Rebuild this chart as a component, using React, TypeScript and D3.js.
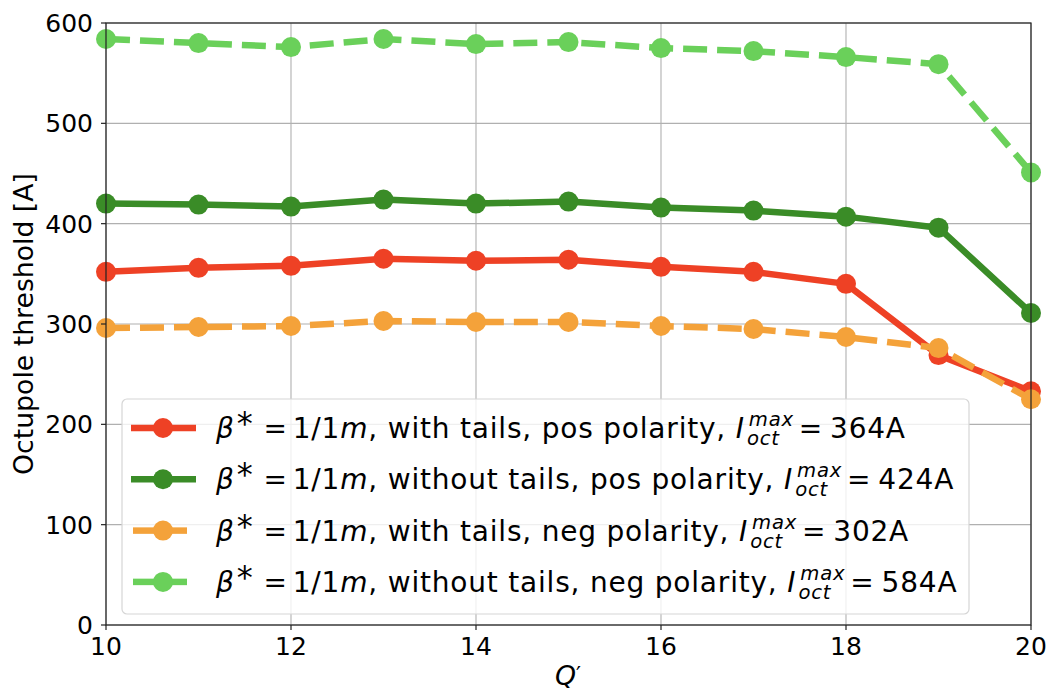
import React from "react";
import * as d3 from "d3";

const qPrime = [10, 11, 12, 13, 14, 15, 16, 17, 18, 19, 20];
const withTailsPos = [352, 356, 358, 365, 363, 364, 357, 352, 340, 269, 233];
const withoutTailsPos = [420, 419, 417, 424, 420, 422, 416, 413, 407, 396, 311];
const withTailsNeg = [296, 297, 298, 303, 302, 302, 298, 295, 287, 276, 225];
const withoutTailsNeg = [584, 580, 576, 584, 579, 581, 575, 572, 566, 559, 451];
const xTicks = [10, 12, 14, 16, 18, 20];
const yTicks = [0, 100, 200, 300, 400, 500, 600];

const seriesNames = ["with tails, pos polarity, ", "without tails, pos polarity, ", "with tails, neg polarity, ", "without tails, neg polarity, "];
const seriesMax = ["364A", "424A", "302A", "584A"];
const seriesColors = ["#EE4125", "#3A8C27", "#F4A23A", "#6AD05A"];
const seriesDashed = [false, false, true, true];
const seriesValues = [withTailsPos, withoutTailsPos, withTailsNeg, withoutTailsNeg];

const W = 1048;
const H = 690;
const FONT = "'DejaVu Sans', sans-serif";

export default function App() {
  const x = d3.scaleLinear().domain([10, 20]).range([106, 1031]);
  const y = d3.scaleLinear().domain([0, 600]).range([625, 23]);
  const line = d3
    .line<number>()
    .x((_, i) => x(qPrime[i]))
    .y((d) => y(d));

  const lw = 6.5;
  const r = 10;
  const dash = "24 10";

  const legX = 122;
  const legY = 399;
  const legW = 847;
  const legH = 215;
  const rowY = (i: number) => 428 + i * 51.3;
  const LF = 28;
  const SF = 19.6;

  return (
    <svg
      width={W}
      height={H}
      style={{ position: "absolute", left: 0, top: 0, background: "#fff" }}
      fontFamily={FONT}
    >
      <rect x={0} y={0} width={W} height={H} fill="#fff" />
      {xTicks.map((t) => (
        <line key={"gx" + t} x1={x(t)} x2={x(t)} y1={y(0)} y2={y(600)} stroke="#b0b0b0" strokeWidth={1.1} />
      ))}
      {yTicks.map((t) => (
        <line key={"gy" + t} x1={x(10)} x2={x(20)} y1={y(t)} y2={y(t)} stroke="#b0b0b0" strokeWidth={1.1} />
      ))}
      {seriesValues.map((vals, si) => (
        <g key={"s" + si}>
          <path
            d={line(vals) || ""}
            fill="none"
            stroke={seriesColors[si]}
            strokeWidth={lw}
            strokeDasharray={seriesDashed[si] ? dash : undefined}
            strokeLinejoin="round"
          />
          {vals.map((v, i) => (
            <circle key={i} cx={x(qPrime[i])} cy={y(v)} r={r} fill={seriesColors[si]} />
          ))}
        </g>
      ))}
      <rect x={x(10)} y={y(600)} width={x(20) - x(10)} height={y(0) - y(600)} fill="none" stroke="#222" strokeWidth={1.2} />
      {xTicks.map((t) => (
        <g key={"xt" + t}>
          <line x1={x(t)} x2={x(t)} y1={y(0)} y2={y(0) + 5} stroke="#222" strokeWidth={1.2} />
          <text x={x(t)} y={655} textAnchor="middle" fontSize={25} fill="#000">
            {t}
          </text>
        </g>
      ))}
      {yTicks.map((t) => (
        <g key={"yt" + t}>
          <line x1={x(10) - 5} x2={x(10)} y1={y(t)} y2={y(t)} stroke="#222" strokeWidth={1.2} />
          <text x={93} y={y(t) + 9} textAnchor="end" fontSize={25} fill="#000">
            {t}
          </text>
        </g>
      ))}
      <text x={568} y={685} textAnchor="middle" fontSize={26.7} fill="#000">
        <tspan fontStyle="italic">Q</tspan>
        <tspan fontSize={22} dy={-3}>′</tspan>
      </text>
      <text
        transform={`translate(33, ${(y(0) + y(600)) / 2}) rotate(-90)`}
        textAnchor="middle"
        fontSize={26.7}
        fill="#000"
      >
        Octupole threshold [A]
      </text>
      <rect x={legX} y={legY} width={legW} height={legH} rx={5} fill="#fff" fillOpacity={0.8} stroke="#d6d6d6" strokeWidth={1.2} />
      {seriesNames.map((name, i) => {
        const cy = rowY(i);
        return (
          <g key={"leg" + i}>
            {seriesDashed[i] ? (
              <g>
                <line x1={133} x2={157} y1={cy} y2={cy} stroke={seriesColors[i]} strokeWidth={lw} />
                <line x1={167} x2={187} y1={cy} y2={cy} stroke={seriesColors[i]} strokeWidth={lw} />
              </g>
            ) : (
              <line x1={131} x2={196} y1={cy} y2={cy} stroke={seriesColors[i]} strokeWidth={lw} />
            )}
            <circle cx={163} cy={cy} r={r} fill={seriesColors[i]} />
            <text x={216} y={cy + 10} fontSize={LF} fill="#000" letterSpacing={0.8}>
              <tspan fontStyle="italic">β</tspan>
              <tspan fontSize={32} dy={-4} dx={2}>*</tspan>
              <tspan dy={4} dx={10}>=</tspan>
              <tspan dx={5}>1/1</tspan>
              <tspan fontStyle="italic">m</tspan>
              <tspan>{", " + name}</tspan>
              <tspan fontStyle="italic">I</tspan>
              <tspan fontStyle="italic" fontSize={SF} dy={-12} dx={4}>max</tspan>
              <tspan fontStyle="italic" fontSize={SF} dy={19} dx={-47}>oct</tspan>
              <tspan dy={-7} dx={19}>=</tspan>
              <tspan dx={7}>{seriesMax[i]}</tspan>
            </text>
          </g>
        );
      })}
    </svg>
  );
}
